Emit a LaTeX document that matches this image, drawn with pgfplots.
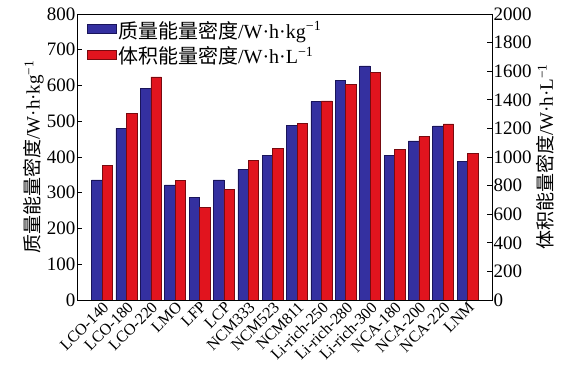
\documentclass[border=0pt]{standalone}
\usepackage{fontspec}
\setmainfont{Liberation Serif}
\newfontfamily\cjk{Noto Sans CJK SC}
\usepackage{pgfplots}
\pgfplotsset{compat=1.18}
\definecolor{barblue}{RGB}{52,48,160}
\definecolor{barblueedge}{RGB}{25,20,90}
\definecolor{barred}{RGB}{225,20,30}
\definecolor{barrededge}{RGB}{120,10,15}
\begin{document}
\begin{tikzpicture}
\useasboundingbox (-77pt,-87pt) rectangle (495pt,300pt);
\pgfplotsset{
 common/.style={
  at={(0,0)}, anchor=south west,
  scale only axis, width=415pt, height=286pt,
  xmin=-1.03, xmax=16,
  ymin=0,
  tick align=inside,
  /pgf/number format/assume math mode=true,
  /pgf/number format/1000 sep={},
  tick label style={font=\fontsize{19}{21}\selectfont},
  major tick length=5pt,
  axis line style={line width=0.8pt},
  every tick/.style={line width=0.8pt, black},
 }
}
\begin{axis}[common,
  ymax=800, ytick={0,100,...,800}, ytick pos=left,
  yticklabel style={inner sep=1.5pt},
  xtick={0,...,15},
  xticklabels={LCO-140,LCO-180,LCO-220,LMO,LFP,LCP,NCM333,NCM523,NCM811,Li-rich-250,Li-rich-280,Li-rich-300,NCA-180,NCA-200,NCA-220,LNM},
  xticklabel style={rotate=45, anchor=north east, font=\fontsize{16}{18}\selectfont, inner sep=0.5pt},
  x tick style={draw=none},
  ylabel={{\cjk 质量能量密度}/W·h·kg\textsuperscript{−1}},
  ylabel style={font=\fontsize{19}{21}\selectfont, yshift=-2pt},
]
\addplot[ybar, bar width=0.43, bar shift=-0.215, fill=barblue, draw=barblueedge, line width=0.6pt]
 coordinates {(0,336) (1,480) (2,592) (3,322) (4,287) (5,336) (6,366) (7,405) (8,488) (9,555) (10,615) (11,655) (12,404) (13,445) (14,487) (15,387)};
\end{axis}
\begin{axis}[common,
  ymax=2000, ytick={0,200,...,2000}, ytick pos=right, yticklabel pos=right,
  yticklabel style={inner sep=1.5pt},
  hide x axis,
  ylabel near ticks,
  ylabel={{\cjk 体积能量密度}/W·h·L\textsuperscript{−1}},
  ylabel style={font=\fontsize{19}{21}\selectfont},
  legend style={at={(0.02,0.985)}, anchor=north west, draw=none, fill=none,
    font=\fontsize{20}{22}\selectfont, row sep=3pt, inner sep=1pt},
  legend cell align=left,
  legend image code/.code={\draw[#1] (0pt,-3pt) rectangle (29pt,6pt);},
]
\addlegendimage{fill=barblue, draw=barblueedge, line width=0.6pt}
\addlegendentry{{\cjk 质量能量密度}/W·h·kg\textsuperscript{−1}}
\addplot[ybar, bar width=0.43, bar shift=0.215, fill=barred, draw=barrededge, line width=0.6pt]
 coordinates {(0,939) (1,1303) (2,1560) (3,839) (4,650) (5,776) (6,974) (7,1061) (8,1236) (9,1392) (10,1508) (11,1590) (12,1054) (13,1142) (14,1231) (15,1023)};
\addlegendentry{{\cjk 体积能量密度}/W·h·L\textsuperscript{−1}}
\end{axis}
\end{tikzpicture}
\end{document}
